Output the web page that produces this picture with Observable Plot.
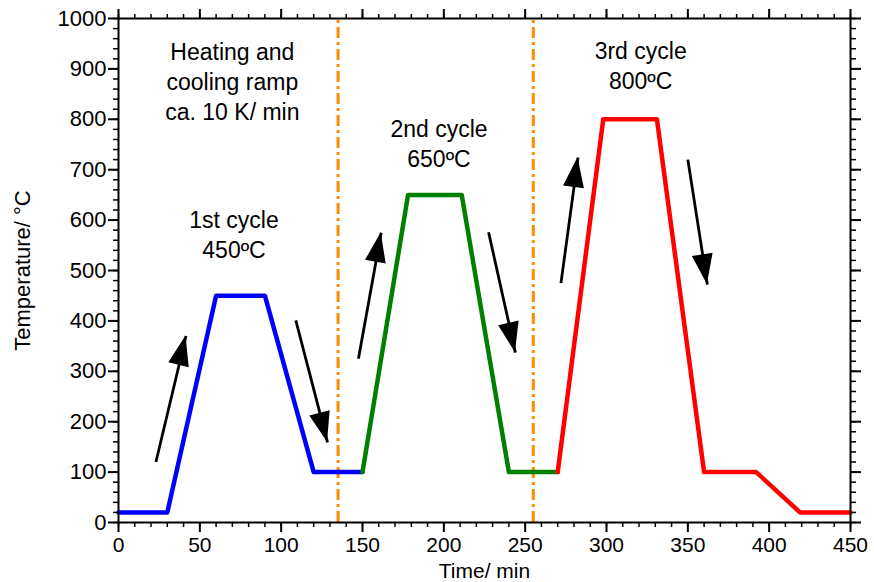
<!DOCTYPE html>
<html><head><meta charset="utf-8">
<script src="https://cdn.jsdelivr.net/npm/d3@7"></script>
<script src="https://cdn.jsdelivr.net/npm/@observablehq/plot@0.6"></script>
<style>body{margin:0;background:#fff;}</style>
</head><body><div id="chart"></div>
<script>
// Data (time in min, temperature in °C)
const blueT = [0, 30, 60, 90, 120, 150];
const blueV = [20, 20, 450, 450, 100, 100];
const greenT = [150, 178, 211, 240, 270];
const greenV = [100, 650, 650, 100, 100];
const redT = [270, 298, 331, 360, 392, 419, 450];
const redV = [100, 800, 800, 100, 100, 20, 20];
const dividers = [135, 255];
// arrows: tail -> tip
const arrowX1 = [23, 109, 147.5, 227.5, 272, 350];
const arrowY1 = [120, 401, 325, 576, 475, 720];
const arrowX2 = [41.5, 128.5, 161.5, 244, 282.5, 362];
const arrowY2 = [370, 159, 575, 337, 724, 472];
// annotations
const noteText = ["Heating and\ncooling ramp\nca. 10 K/ min", "1st cycle\n450ºC", "2nd cycle\n650ºC", "3rd cycle\n800ºC"];
const noteX = [70, 71, 197, 321];
const noteY = [877, 574, 754, 909];
// ticks
const xTicks = d3.range(0, 451, 50);
const xMinor = d3.range(0, 451, 10);
const yTicks = d3.range(0, 1001, 100);
const yMinor = d3.range(0, 1001, 20);

const toRows = (xs, ys) => xs.map((x, i) => ({x, y: ys[i]}));
const arrows = arrowX1.map((x, i) => ({x1: x, y1: arrowY1[i], x2: arrowX2[i], y2: arrowY2[i]}));
const notes = noteText.map((t, i) => ({t, x: noteX[i], y: noteY[i]}));
const blank = () => "";
const plain = d => String(d);

const plot = Plot.plot({
  width: 874, height: 582,
  marginLeft: 118, marginRight: 24, marginTop: 18, marginBottom: 60,
  style: {fontSize: "22px", fontFamily: "'Liberation Sans', Arial, sans-serif", color: "#000", background: "#fff"},
  x: {domain: [0, 450]},
  y: {domain: [0, 1000]},
  marks: [
    Plot.ruleX(dividers, {y1: 0, y2: 1000, stroke: "#FF8C00", strokeWidth: 3, strokeDasharray: "11,4,3,4"}),
    Plot.line(toRows(blueT, blueV), {x: "x", y: "y", stroke: "#0000FF", strokeWidth: 4.5, strokeLinejoin: "round"}),
    Plot.line(toRows(greenT, greenV), {x: "x", y: "y", stroke: "#008000", strokeWidth: 4.5, strokeLinejoin: "round"}),
    Plot.line(toRows(redT, redV), {x: "x", y: "y", stroke: "#FF0000", strokeWidth: 4.5, strokeLinejoin: "round"}),
    Plot.link(arrows, {x1: "x1", y1: "y1", x2: "x2", y2: "y2", stroke: "#000", strokeWidth: 2.8}),
    Plot.text(notes, {x: "x", y: "y", text: "t", fontSize: 23, lineHeight: 1.3, lineAnchor: "middle", fill: "#000"}),
    Plot.frame({stroke: "#000", strokeWidth: 2}),
    Plot.axisX({anchor: "bottom", ticks: xTicks, tickSize: 10, tickPadding: 5, strokeWidth: 2, tickFormat: plain, fontSize: 21, label: "Time/ min", labelAnchor: "center", labelOffset: 55, labelArrow: "none"}),
    Plot.axisX({anchor: "bottom", ticks: xMinor, tickSize: 5, strokeWidth: 1.5, tickFormat: blank, label: null}),
    Plot.axisX({anchor: "top", ticks: xTicks, tickSize: 10, strokeWidth: 2, tickFormat: blank, label: null}),
    Plot.axisX({anchor: "top", ticks: xMinor, tickSize: 5, strokeWidth: 1.5, tickFormat: blank, label: null}),
    Plot.axisY({anchor: "left", ticks: yTicks, tickSize: 10, tickPadding: 2, strokeWidth: 2, tickFormat: plain, fontSize: 22, label: "Temperature/ °C", labelAnchor: "center", labelOffset: 104, labelArrow: "none"}),
    Plot.axisY({anchor: "left", ticks: yMinor, tickSize: 5, strokeWidth: 1.5, tickFormat: blank, label: null}),
    Plot.axisY({anchor: "right", ticks: yTicks, tickSize: 10, strokeWidth: 2, tickFormat: blank, label: null}),
    Plot.axisY({anchor: "right", ticks: yMinor, tickSize: 5, strokeWidth: 1.5, tickFormat: blank, label: null})
  ]
});

// filled arrow heads, positioned through the plot's own scales
const sx = plot.scale("x").apply, sy = plot.scale("y").apply;
const headLen = 30, headHalf = 10.5;
const g = d3.select(plot).append("g").attr("fill", "#000");
arrows.forEach(a => {
  const x1 = sx(a.x1), y1 = sy(a.y1), x2 = sx(a.x2), y2 = sy(a.y2);
  const dx = x2 - x1, dy = y2 - y1, L = Math.hypot(dx, dy);
  const ux = dx / L, uy = dy / L, bx = x2 - ux * headLen, by = y2 - uy * headLen;
  g.append("path").attr("d", `M${x2},${y2}L${bx - uy * headHalf},${by + ux * headHalf}L${bx + uy * headHalf},${by - ux * headHalf}Z`);
});

document.getElementById("chart").appendChild(plot);
</script>
</body></html>
